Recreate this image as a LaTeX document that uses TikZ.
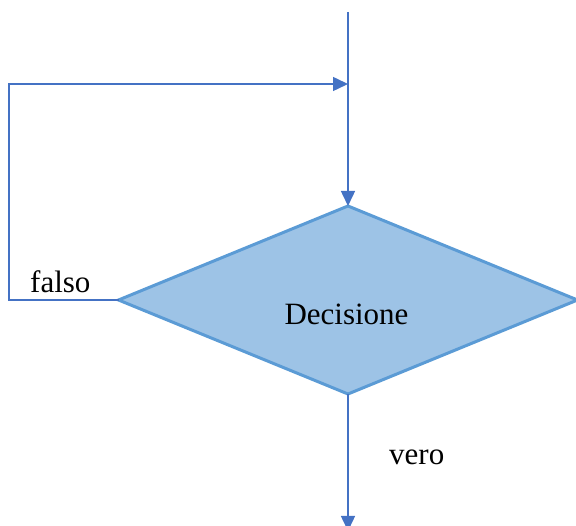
\documentclass[tikz,border=0pt]{standalone}
\usepackage{fontspec}
\setmainfont{Liberation Serif}
\usetikzlibrary{shapes.geometric,arrows.meta}

\definecolor{flowline}{HTML}{4472C4}
\definecolor{decfill}{HTML}{9DC3E6}
\definecolor{decedge}{HTML}{5B9BD5}

\tikzset{
  flow/.style={draw=flowline, line width=1.5pt,
    -{Triangle[length=15pt,width=14pt]}},
  loopline/.style={draw=flowline, line width=1.5pt},
  decision/.style={diamond, draw=decedge, fill=decfill, line width=3pt,
    minimum width=459pt, minimum height=188pt, aspect=2.44,
    inner sep=0pt, outer sep=0pt},
  label/.style={inner sep=0pt, font=\fontsize{31}{37}\selectfont}
}

\begin{document}
\begin{tikzpicture}[x=1pt, y=-1pt]
  \useasboundingbox (0,0) rectangle (576,526);

  % decision block
  \node[decision] (dec) at (348,300) {};
  \node[label, anchor=base] (dectext) at (346.5,325) {Decisione};

  % incoming line and loop-back junction
  \coordinate (start) at (348,12);
  \coordinate (join) at (348,84);
  \coordinate (cornerlow) at (9,300);
  \coordinate (cornerhigh) at (9,84);
  \coordinate (exit) at (348,531);

  \draw[flow] (start) -- (dec.north);
  \draw[loopline] (dec.west) -- (cornerlow) -- (cornerhigh) -- ([xshift=-14pt]join);
  \draw[flow] ([xshift=-20pt]join) -- (join);
  \draw[flow] (dec.south) -- (exit);

  % branch labels
  \node[label, anchor=base west] (falso) at (30,293) {falso};
  \node[label, anchor=base west] (vero) at (389,465) {vero};
\end{tikzpicture}
\end{document}
